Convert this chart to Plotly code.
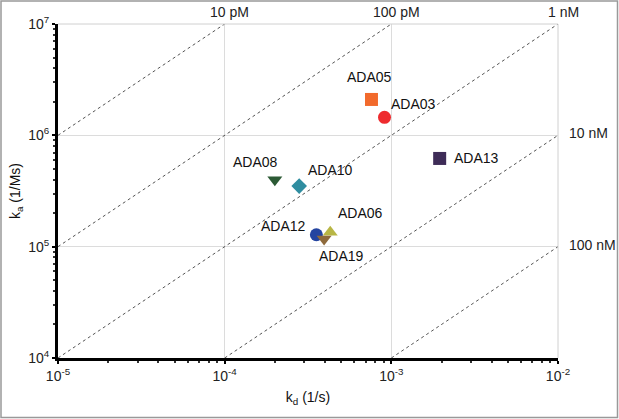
import math
import plotly.graph_objects as go

names = ["ADA05", "ADA03", "ADA13", "ADA08", "ADA10", "ADA12", "ADA06", "ADA19"]
kd = [7.6e-4, 9.1e-4, 1.95e-3, 2.0e-4, 2.8e-4, 3.55e-4, 4.3e-4, 3.95e-4]
ka = [2.1e6, 1.45e6, 6.2e5, 4.0e5, 3.5e5, 1.28e5, 1.35e5, 1.17e5]
symbols = ["square", "circle", "square", "triangle-down", "diamond", "circle", "triangle-up", "triangle-down"]
colors = ["#F26A2C", "#EE2B2E", "#3E2C57", "#2C5A35", "#2F8DA0", "#2444A0", "#B8B645", "#8E6A3C"]
# label offsets in pixels (dx, dy) relative to marker
label_dx = [-2, 29, 37, -19, 31, -33, 30, 17]
label_dy = [22, 13, 0, 18, 16, 9, 19, -17]

KD_values = [1e-11, 1e-10, 1e-9, 1e-8, 1e-7]
KD_labels = ["10 pM", "100 pM", "1 nM", "10 nM", "100 nM"]

xtickvals = [1e-5, 1e-4, 1e-3, 1e-2]
xticktext = ["10<sup>-5</sup>", "10<sup>-4</sup>", "10<sup>-3</sup>", "10<sup>-2</sup>"]
ytickvals = [1e4, 1e5, 1e6, 1e7]
yticktext = ["10<sup>4</sup>", "10<sup>5</sup>", "10<sup>6</sup>", "10<sup>7</sup>"]
minor_mult = [2, 3, 4, 5, 6, 7, 8, 9]

XMIN, XMAX = 1e-5, 1e-2
YMIN, YMAX = 1e4, 1e7
FONT = "Liberation Sans, Arial"
L = math.log10

x_minor = [m * d for d in xtickvals[:-1] for m in minor_mult]
y_minor = [m * d for d in ytickvals[:-1] for m in minor_mult]

fig = go.Figure()

# iso-affinity lines
for K, lab in zip(KD_values, KD_labels):
    x0 = max(XMIN, K * YMIN)
    x1 = min(XMAX, K * YMAX)
    fig.add_trace(go.Scatter(
        x=[x0, x1], y=[x0 / K, x1 / K], mode="lines",
        line=dict(color="#555555", width=1, dash="dot"),
        hoverinfo="skip", showlegend=False))
    if x1 / K >= YMAX * 0.999:
        fig.add_annotation(x=L(x1), y=L(YMAX), xref="x", yref="y", text=lab, showarrow=False,
                           xanchor="center", yanchor="bottom", xshift=5, yshift=2,
                           font=dict(size=14, color="#222222", family=FONT))
    else:
        fig.add_annotation(x=L(XMAX), y=L(x1 / K), xref="x", yref="y", text=lab, showarrow=False,
                           xanchor="left", yanchor="middle", xshift=9, yshift=2,
                           font=dict(size=14, color="#222222", family=FONT))

for n, x, y, s, c, dx, dy in zip(names, kd, ka, symbols, colors, label_dx, label_dy):
    fig.add_trace(go.Scatter(
        x=[x], y=[y], mode="markers",
        marker=dict(symbol=s, color=c, size=13 if s != "diamond" else 12, line=dict(width=0)),
        showlegend=False))
    fig.add_annotation(x=L(x), y=L(y), xref="x", yref="y", text=n, showarrow=False,
                       xanchor="center", yanchor="middle", xshift=dx, yshift=dy,
                       font=dict(size=14, color="#111111", family=FONT))

axis_common = dict(
    type="log", showline=True, linecolor="black", linewidth=3,
    showgrid=True, gridcolor="#dcdcdc", gridwidth=1, zeroline=False,
    ticks="outside", ticklen=3, tickwidth=2, tickcolor="black",
    tickfont=dict(size=14, color="#222222", family=FONT),
)

fig.update_xaxes(range=[-5, -2], tickvals=xtickvals, ticktext=xticktext,
                 minor=dict(tickvals=x_minor, ticks="outside", ticklen=2, tickwidth=2,
                            tickcolor="#333333", showgrid=False),
                 title=dict(text="k<sub>d</sub> (1/s)", font=dict(size=14, color="#111111", family=FONT), standoff=10),
                 **axis_common)
fig.update_yaxes(range=[4, 7], tickvals=ytickvals, ticktext=yticktext,
                 minor=dict(tickvals=y_minor, ticks="outside", ticklen=2, tickwidth=2,
                            tickcolor="#333333", showgrid=False),
                 title=dict(text="k<sub>a</sub> (1/Ms)", font=dict(size=14, color="#111111", family=FONT), standoff=5),
                 **axis_common)

# light frame on top/right of plot area
fig.add_shape(type="line", xref="paper", yref="paper", x0=0, x1=1, y0=1, y1=1,
              line=dict(color="#d0d0d0", width=1))
fig.add_shape(type="line", xref="paper", yref="paper", x0=1, x1=1, y0=0, y1=1,
              line=dict(color="#d0d0d0", width=1))
# outer border of the image
fig.add_shape(type="rect", xref="paper", yref="paper",
              x0=(1 - 58) / 500, x1=(617.5 - 58) / 500,
              y0=(358 - 417.5) / 334, y1=(358 - 1) / 334,
              line=dict(color="#999999", width=1.5), layer="below")

fig.update_layout(
    width=619, height=419,
    margin=dict(l=58, r=61, t=24, b=61, autoexpand=False),
    paper_bgcolor="white", plot_bgcolor="white",
    font=dict(family=FONT, color="#222222"),
    showlegend=False,
)

fig.write_html("out.html", config={"displayModeBar": False},
               post_script="document.body.style.margin='0';document.body.style.overflow='hidden';")
